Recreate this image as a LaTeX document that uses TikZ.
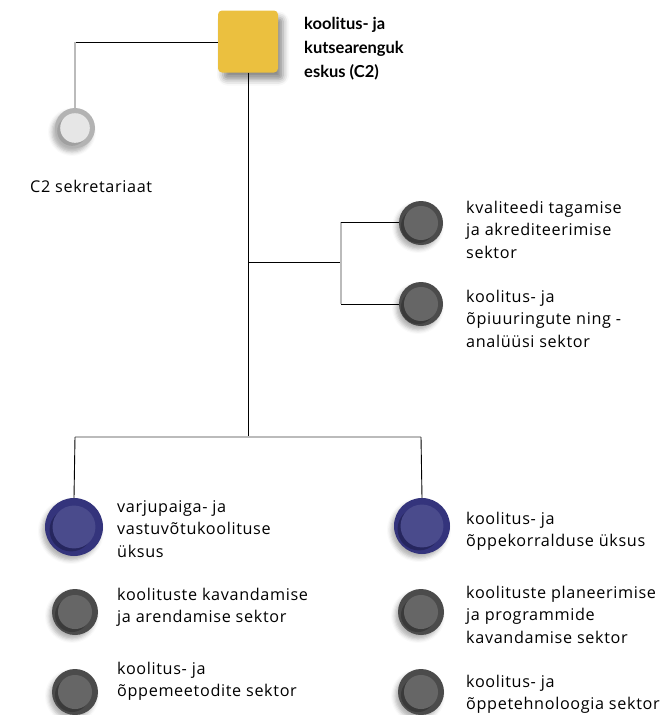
\documentclass[tikz,border=0pt]{standalone}
\usepackage{fontspec}
\setmainfont{Open Sans}[LetterSpace=4,BoldFeatures={LetterSpace=0}]
\newfontfamily\hdfont{Lato}
\usetikzlibrary{shadows.blur}
\definecolor{sqcol}{HTML}{EBC03F}
\definecolor{gout}{HTML}{4B4B4B}
\definecolor{gshd}{HTML}{3A3A3A}
\definecolor{ginn}{HTML}{666666}
\definecolor{bout}{HTML}{34347C}
\definecolor{bshd}{HTML}{26265E}
\definecolor{binn}{HTML}{4A4B8C}
\definecolor{lout}{HTML}{B3B3B3}
\definecolor{lshd}{HTML}{A0A0A0}
\definecolor{linn}{HTML}{E6E6E6}
\definecolor{lngray}{HTML}{BBBBBB}
\newcommand{\lns}[2][22.8pt]{\vtop{\baselineskip=#1\relax #2}}
\begin{document}
\begin{tikzpicture}[x=1pt,y=-1pt,
  ln/.style={line width=0.9pt,black},
  gl/.style={line width=1.6pt,lngray},
  sqbox/.style={fill=sqcol,rounded corners=4pt,minimum width=60pt,minimum height=62pt,inner sep=0pt,
    blur shadow={shadow xshift=5pt,shadow yshift=-7pt,shadow blur radius=6pt,shadow opacity=45}},
  dot/.style n args={4}{circle,inner sep=0pt,minimum size=#1,fill=#2,
    blur shadow={shadow xshift=-3pt,shadow yshift=-4pt,shadow blur radius=4pt,shadow opacity=30},
    path picture={
      \fill[#3] ([xshift=-3pt,yshift=-3pt]path picture bounding box.center) circle (0.37*#1);
      \fill[#4] (path picture bounding box.center) circle (0.37*#1);}},
  gdot/.style={dot={46pt}{gout}{gshd}{ginn}},
  bdot/.style={dot={58pt}{bout}{bshd}{binn}},
  ldot/.style={dot={40pt}{lout}{lshd}{linn}},
  lbl/.style={anchor=base west,inner sep=0pt,font=\fontsize{16.2}{18}\selectfont}]
\useasboundingbox (0,0) rectangle (662,715);

% nodes
\node[sqbox] (top) at (248,41.5) {};
\node[lbl,font=\fontsize{16.5}{18}\selectfont\hdfont\bfseries] (toptxt) at (304,29)
  {\lns[24pt]{\hbox{koolitus- ja}\hbox{kutsearenguk}\hbox{eskus (C2)}}};

\node[ldot] (sek) at (75,128) {};
\node[lbl] (sektxt) at (30,192) {C2 sekretariaat};

\node[gdot,minimum size=44pt] (m1) at (421,223) {};
\node[gdot,minimum size=44pt] (m2) at (421,304) {};
\node[lbl] (m1txt) at (466,213) {\lns{\hbox{kvaliteedi tagamise}\hbox{ja akrediteerimise}\hbox{sektor}}};
\node[lbl] (m2txt) at (466,302) {\lns{\hbox{koolitus- ja}\hbox{õpiuuringute ning -}\hbox{analüüsi sektor}}};

\node[bdot] (l1) at (74,527) {};
\node[gdot] (l2) at (75,612) {};
\node[gdot] (l3) at (75,692) {};
\node[lbl] (l1txt) at (117,512) {\lns{\hbox{varjupaiga- ja}\hbox{vastuvõtukoolituse}\hbox{üksus}}};
\node[lbl] (l2txt) at (117,600) {\lns{\hbox{koolituste kavandamise}\hbox{ja arendamise sektor}}};
\node[lbl] (l3txt) at (117,674) {\lns{\hbox{koolitus- ja}\hbox{õppemeetodite sektor}}};

\node[bdot,minimum size=56pt] (r1) at (422,526) {};
\node[gdot] (r2) at (421,612) {};
\node[gdot] (r3) at (421,692) {};
\node[lbl] (r1txt) at (466,524) {\lns{\hbox{koolitus- ja}\hbox{õppekorralduse üksus}}};
\node[lbl] (r2txt) at (466,598) {\lns{\hbox{koolituste planeerimise}\hbox{ja programmide}\hbox{kavandamise sektor}}};
\node[lbl] (r3txt) at (466,687) {\lns[22pt]{\hbox{koolitus- ja}\hbox{õppetehnoloogia sektor}}};

% junctions
\coordinate (k1) at (75,42);
\coordinate (j1) at (248,262);
\coordinate (j2) at (341,262);
\coordinate (j2a) at (341,222);
\coordinate (j2b) at (341,304);
\coordinate (j3) at (248,437);
\coordinate (jl) at (75,437);
\coordinate (jr) at (421,437);

% connectors
\draw[ln] (top.west |- k1) -- (k1);
\draw[gl] (k1) -- (sek.north);
\draw[ln] (top.south -| j1) -- (j3);
\draw[ln] (j1) -- (j2);
\draw[gl] (j2a) -- (j2b);
\draw[ln] (j2a) -- (m1.west |- j2a);
\draw[ln] (j2b) -- (m2.west |- j2b);
\draw[gl] (jl) -- (jr);
\draw[ln] (jl) -- (l1.north);
\draw[ln] (jr) -- (r1.north);
\end{tikzpicture}
\end{document}
